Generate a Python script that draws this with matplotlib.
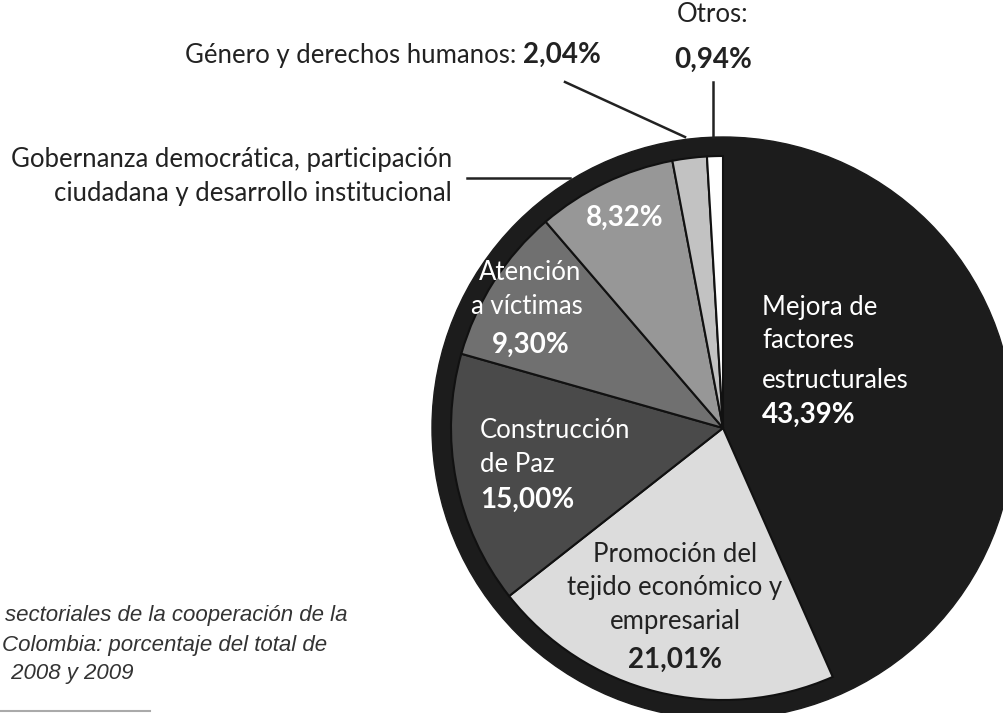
import matplotlib
matplotlib.use("Agg")
from matplotlib import pyplot as plt
from matplotlib.patches import Circle

sectores = ["Mejora de factores estructurales",
            "Promoción del tejido económico y empresarial",
            "Construcción de Paz",
            "Atención a víctimas",
            "Gobernanza democrática, participación ciudadana y desarrollo institucional",
            "Género y derechos humanos",
            "Otros"]
porcentajes = [43.39, 21.01, 15.00, 9.30, 8.32, 2.04, 0.94]
colores = ["#1c1c1c", "#dcdcdc", "#4a4a4a", "#707070", "#979797", "#c2c2c2", "#ffffff"]

caption = ["sectoriales de la cooperación de la",
           "Colombia: porcentaje del total de",
           " 2008 y 2009"]

W, H = 1004, 713
fig = plt.figure(figsize=(W / 100, H / 100), dpi=100)
ax = fig.add_axes([0, 0, 1, 1])

cx, cy = 723, 428
# y axis is inverted (pixel coords), so angles run the other way
ax.add_patch(Circle((cx, cy), 291, color="#1c1c1c", zorder=1))
wedges, _ = ax.pie(porcentajes, colors=colores, center=(cx, cy), radius=272,
                   startangle=-90, counterclock=True,
                   wedgeprops=dict(edgecolor="#111111", linewidth=1.5, zorder=2))
wedges[0].set_edgecolor(colores[0])
wedges[0].set_zorder(1.5)
ax.set_xlim(0, W)
ax.set_ylim(H, 0)
ax.set_aspect("equal")
ax.axis("off")

fnt = "Lato"
fs = 18.5
fsb = 20

def txt(x, y, s, color="#222222", bold=False, ha="center"):
    ax.text(x, y, s, fontsize=fsb if bold else fs, family=fnt, color=color,
            ha=ha, va="center", fontweight="bold" if bold else "normal", zorder=5)

# Mejora
for y, s in [(308, "Mejora de"), (340, "factores"), (380, "estructurales")]:
    txt(762, y, s, color="white", ha="left")
txt(762, 415, "43,39%", color="white", bold=True, ha="left")

# Promoción
for y, s in [(555, "Promoción del"), (588, "tejido económico y"), (621, "empresarial")]:
    txt(675, y, s)
txt(675, 660, "21,01%", bold=True)

# Construcción
for y, s in [(430, "Construcción"), (465, "de Paz")]:
    txt(480, y, s, color="white", ha="left")
txt(480, 500, "15,00%", color="white", bold=True, ha="left")

# Atención
txt(530, 273, "Atención", color="white")
txt(527, 306, "a víctimas", color="white")
txt(531, 345, "9,30%", color="white", bold=True)

# Gobernanza
txt(625, 218, "8,32%", color="white", bold=True)
txt(452, 160, "Gobernanza democrática, participación", ha="right")
txt(452, 193, "ciudadana y desarrollo institucional", ha="right")
ax.plot([467, 570], [178, 178], color="#222222", lw=1.8, zorder=4)

# Género
txt(523, 55, "2,04%", bold=True, ha="left")
txt(516, 55, "Género y derechos humanos:", ha="right")
ax.plot([565, 685], [82, 137], color="#222222", lw=1.8, zorder=4)

# Otros
txt(713, 15, "Otros:")
txt(713, 60, "0,94%", bold=True)
ax.plot([713, 713], [82, 137], color="#222222", lw=1.8, zorder=4)

for (x, y), s in zip([(5, 615), (2, 645), (5, 673)], caption):
    ax.text(x, y, s, fontsize=16, family="Liberation Sans", style="italic",
            color="#333333", ha="left", va="center")
ax.plot([0, 150], [711, 711], color="#aaaaaa", lw=1.5)

fig.savefig("out.png", dpi=100)
